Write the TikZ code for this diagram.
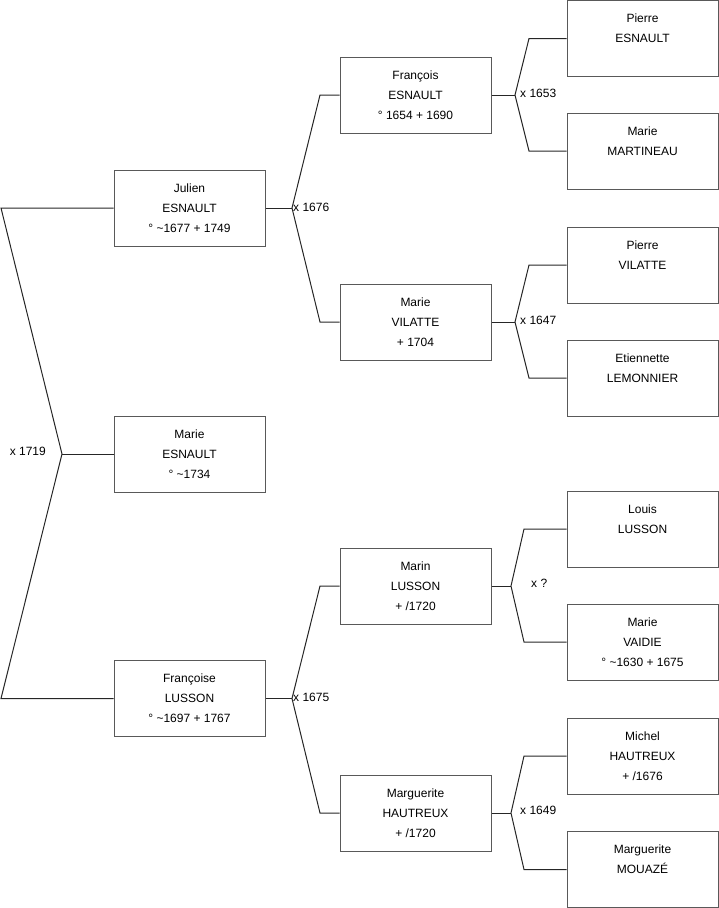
\documentclass[tikz,border=0pt]{standalone}
\usepackage{fontspec}
\setmainfont{Liberation Sans}
\begin{document}
\begin{tikzpicture}[x=1pt,y=-1pt,
  person/.style={draw=black!65, line width=1pt, fill=white, minimum width=151pt, minimum height=76pt,
    inner sep=0pt, align=center, font=\fontsize{12}{20}\selectfont},
  link/.style={draw=black!85, line width=1pt},
  mlabel/.style={font=\fontsize{12}{14}\selectfont, inner sep=0pt}]
\useasboundingbox (0,0) rectangle (719,908);
% column 1
\node[person] (julien) at (189.5,208) {Julien\\ESNAULT\\° \textasciitilde1677 + 1749};
\node[person] (marie) at (189.5,454) {Marie\\ESNAULT\\° \textasciitilde1734};
\node[person] (francoise) at (189.5,698.5) {Françoise\\LUSSON\\° \textasciitilde1697 + 1767};
% column 2
\node[person] (francois) at (415.5,95) {François\\ESNAULT\\° 1654 + 1690};
\node[person] (vilatte) at (415.5,322) {Marie\\VILATTE\\+ 1704};
\node[person] (marin) at (415.5,586) {Marin\\LUSSON\\+ /1720};
\node[person] (marguerite) at (415.5,813) {Marguerite\\HAUTREUX\\+ /1720};
% column 3
\node[person] (pierreE) at (642.5,38.5) {Pierre\\ESNAULT\\\mbox{}};
\node[person] (martineau) at (642.5,151) {Marie\\MARTINEAU\\\mbox{}};
\node[person] (pierreV) at (642.5,265) {Pierre\\VILATTE\\\mbox{}};
\node[person] (etiennette) at (642.5,378) {Etiennette\\LEMONNIER\\\mbox{}};
\node[person] (louis) at (642.5,529) {Louis\\LUSSON\\\mbox{}};
\node[person] (vaidie) at (642.5,642) {Marie\\VAIDIE\\° \textasciitilde1630 + 1675};
\node[person] (michel) at (642.5,756) {Michel\\HAUTREUX\\+ /1676};
\node[person] (mouaze) at (642.5,869.5) {Marguerite\\MOUAZÉ\\\mbox{}};
% left bracket
\coordinate (l1) at (1,208);
\coordinate (l2) at (1,698.5);
\coordinate (m0) at (62,454);
\draw[link] (julien.west) -- (l1) -- (m0) -- (l2) -- (francoise.west);
\draw[link] (m0) -- (marie.west);
\node[mlabel, anchor=east] (x1719) at (46,451) {x 1719};
% Julien
\coordinate (j1) at (292,208);
\coordinate (ja) at (320,95);
\coordinate (jb) at (320,322);
\draw[link] (julien.east) -- (j1);
\draw[link] (francois.west) -- (ja) -- (j1) -- (jb) -- (vilatte.west);
\node[mlabel, anchor=west] (x1676) at (293,207) {x 1676};
% Francoise
\coordinate (f1) at (292,698.5);
\coordinate (fa) at (320,586);
\coordinate (fb) at (320,813);
\draw[link] (francoise.east) -- (f1);
\draw[link] (marin.west) -- (fa) -- (f1) -- (fb) -- (marguerite.west);
\node[mlabel, anchor=west] (x1675) at (293,697) {x 1675};
% Francois
\coordinate (c1) at (515,95);
\coordinate (ca) at (529,38.5);
\coordinate (cb) at (529,151);
\draw[link] (francois.east) -- (c1);
\draw[link] (pierreE.west) -- (ca) -- (c1) -- (cb) -- (martineau.west);
\node[mlabel, anchor=west] (x1653) at (520,93) {x 1653};
% Vilatte
\coordinate (v1) at (515,322);
\coordinate (va) at (529,265);
\coordinate (vb) at (529,378);
\draw[link] (vilatte.east) -- (v1);
\draw[link] (pierreV.west) -- (va) -- (v1) -- (vb) -- (etiennette.west);
\node[mlabel, anchor=west] (x1647) at (520,320) {x 1647};
% Marin
\coordinate (n1) at (511,586);
\coordinate (na) at (524,529);
\coordinate (nb) at (524,642);
\draw[link] (marin.east) -- (n1);
\draw[link] (louis.west) -- (na) -- (n1) -- (nb) -- (vaidie.west);
\node[mlabel, anchor=west] (xq) at (531,583) {x ?};
% Marguerite
\coordinate (g1) at (511,813);
\coordinate (ga) at (524,756);
\coordinate (gb) at (524,869.5);
\draw[link] (marguerite.east) -- (g1);
\draw[link] (michel.west) -- (ga) -- (g1) -- (gb) -- (mouaze.west);
\node[mlabel, anchor=west] (x1649) at (520,810) {x 1649};
\end{tikzpicture}
\end{document}
